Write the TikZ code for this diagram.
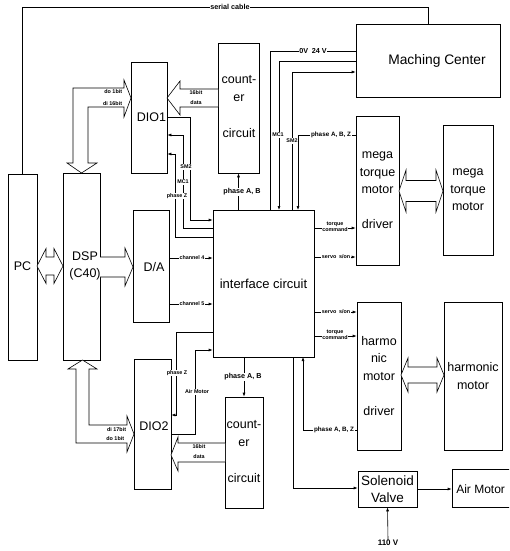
\documentclass[tikz,border=0pt]{standalone}
\usepackage{fontspec}
\setmainfont{Liberation Sans}
\usetikzlibrary{arrows.meta,calc}
\newcommand\bigtxt{\fontsize{12.5}{17.5}\selectfont}
\newcommand\smtxt{\bfseries\fontsize{5.4}{6}\selectfont}
\newcommand\mdtxt{\bfseries\fontsize{7.2}{8}\selectfont}
\begin{document}
\begin{tikzpicture}[x=1pt,y=-1pt,
  line width=0.6pt,
  >={Latex[length=4pt,width=3pt]},
  box/.style={draw, inner sep=0pt, align=center, font=\bigtxt},
  txt/.style={inner sep=0pt, align=center, font=\bigtxt},
  lab/.style={fill=white, inner sep=0.6pt, align=center, font=\smtxt},
  mlab/.style={fill=white, inner sep=0.8pt, align=center, font=\mdtxt},
  fat/.style={draw, fill=white, line join=miter}]
\path[use as bounding box, clip] (0,0) rectangle (509,551);

% boxes
\node[box, minimum width=29pt, minimum height=186pt] (pc) at (22.5,267) {};
\node[txt] (pct) at (22.5,266) {PC};
\node[box, minimum width=37pt, minimum height=187pt] (dsp) at (81.5,266.5) {};
\node[txt] (dspt) at (85,266) {DSP\\(C40)};
\node[box, minimum width=36pt, minimum height=111pt] (dio1) at (149,117.5) {};
\node[txt] (dio1t) at (151.5,117) {DIO1};
\node[box, minimum width=41pt, minimum height=130pt] (cnt1) at (238.5,108) {};
\node[txt, font=\fontsize{12.5}{18}\selectfont] (cnt1t) at (239,107) {count-\\er\\\mbox{}\\circuit};
\node[box, minimum width=36pt, minimum height=112pt] (da) at (151,266) {};
\node[txt] (dat) at (154,267) {D/A};
\node[box, minimum width=101pt, minimum height=147pt] (iface) at (263.5,283.5) {};
\node[txt, font=\fontsize{13}{15}\selectfont] (ifacet) at (263.5,284) {interface circuit};
\node[box, minimum width=37pt, minimum height=130pt] (dio2) at (152.5,424) {};
\node[txt] (dio2t) at (154,426) {DIO2};
\node[box, minimum width=38pt, minimum height=111pt] (cnt2) at (244,452.5) {};
\node[txt, font=\fontsize{12.5}{18}\selectfont] (cnt2t) at (244,452) {count-\\er\\\mbox{}\\circuit};
\node[box, minimum width=144pt, minimum height=73pt] (mc) at (428,60.5) {};
\node[txt, font=\fontsize{13.8}{16}\selectfont] (mct) at (437,61) {Maching Center};
\node[box, minimum width=43pt, minimum height=149pt] (mtd) at (377.5,190.5) {mega\\torque\\motor\\\mbox{}\\driver};
\node[box, minimum width=50pt, minimum height=130pt] (mtm) at (468,190) {mega\\torque\\motor};
\node[box, minimum width=44pt, minimum height=148pt] (hmd) at (379,376) {harmo\\nic\\motor\\\mbox{}\\driver};
\node[box, minimum width=58pt, minimum height=148pt] (hm) at (473,376) {harmonic\\motor};
\node[box, minimum width=59pt, minimum height=36pt, font=\fontsize{13.5}{17}\selectfont] (sv) at (387.5,489) {Solenoid\\Valve};
\node[box, minimum width=78pt, minimum height=38pt] (am) at (491,488) {};
\node[txt, anchor=west, font=\fontsize{12}{14}\selectfont] (amt) at (456,489) {Air Motor};
\node[inner sep=0pt, font=\bfseries\fontsize{8}{9}\selectfont] (v110) at (388,543) {110 V};

% fat arrows
\draw[fat] (37,266) -- (46,248.5) -- (46,257) -- (54,257) -- (54,248.5) -- (63,266)
  -- (54,283.5) -- (54,275) -- (46,275) -- (46,283.5) -- cycle;
\draw[fat] (100,257) -- (125,257) -- (125,248) -- (133,267) -- (125,286) -- (125,277) -- (100,277);
\draw[fat] (399,191) -- (406,170) -- (406,180.5) -- (436,180.5) -- (436,170) -- (443,191)
  -- (436,212) -- (436,201.5) -- (406,201.5) -- (406,212) -- cycle;
\draw[fat] (401,375) -- (408,358) -- (408,367) -- (437,367) -- (437,358) -- (444,375)
  -- (437,392) -- (437,383) -- (408,383) -- (408,392) -- cycle;
% DSP <-> DIO1
\draw[fat] (81.5,173) -- (97,163) -- (88,163) -- (88,107) -- (124,107) -- (124,117) -- (131,98)
  -- (124,80) -- (124,88) -- (73,88) -- (73,163) -- (67,163) -- cycle;
% DSP <-> DIO2
\draw[fat] (82.5,360) -- (97,369) -- (89,369) -- (89,425) -- (127,425) -- (127,416) -- (134,434)
  -- (127,452) -- (127,443) -- (76,443) -- (76,369) -- (68,369) -- cycle;
% counters -> DIO
\draw[fat] (218,89) -- (180,89) -- (180,81) -- (167,98) -- (180,115) -- (180,107) -- (218,107);
\draw[fat] (225,443) -- (178,443) -- (178,437) -- (171,455) -- (178,471) -- (178,462) -- (225,462);

\node[lab, fill=none, anchor=east] (l1) at (123,92) {do 1bit};
\node[lab, fill=none, anchor=east] (l2) at (123,103.5) {di 16bit};
\node[lab, fill=none] (l3) at (196,93) {16bit};
\node[lab, fill=none] (l4) at (196,103) {data};
\node[lab, fill=none, anchor=east] (l5) at (127,429.5) {di 17bit};
\node[lab, fill=none, anchor=east] (l6) at (125,439) {do 1bit};
\node[lab, fill=none] (l7) at (199,447) {16bit};
\node[lab, fill=none] (l8) at (199,457) {data};

% serial cable
\draw (pc.north) -- (pc.north |- 0,7) -- (mc.north |- 0,7) -- (mc.north);
\node[mlab] (sc) at (230,7) {serial cable};

% machining centre lines
\draw (mc.west |- 0,51) -- (270,51) -- (270,210);
\node[mlab] (v24) at (313,51) {0V\enspace 24 V};
\draw[->] (mc.west |- 0,61) -- (279,61) -- (279,210);
\draw[->] (292,210) -- (292,72) -- (mc.west |- 0,72);
\draw[->] (mtd.west |- 0,135) -- (298,135) -- (298,210);
\node[lab] (mc1r) at (278,135) {MC1};
\node[lab] (sm2r) at (292,141) {SM2};
\node[mlab, font=\bfseries\fontsize{6.3}{7}\selectfont] (pabz1) at (331,135) {phase A, B, Z};

% interface -> drivers
\draw[->] (iface.east |- 0,228) -- (mtd.west |- 0,228);
\node[lab] (tc1) at (335,227) {torque\\command};
\draw[->] (iface.east |- 0,257) -- (mtd.west |- 0,257);
\node[lab] (ss1) at (336,257) {servo\enspace s/on};
\draw[->] (iface.east |- 0,312) -- (hmd.west |- 0,312);
\node[lab] (ss2) at (336,312) {servo\enspace s/on};
\draw[->] (iface.east |- 0,336) -- (hmd.west |- 0,336);
\node[lab] (tc2) at (335,335) {torque\\command};

% DIO1 signals
\draw[->] (dio1.east |- 0,117) -- (190,117) -- (190,220) -- (iface.west |- 0,220);
\draw[->] (iface.west |- 0,228) -- (183,228) -- (183,135) -- (dio1.east |- 0,135);
\draw[->] (iface.west |- 0,237) -- (175,237) -- (175,154) -- (dio1.east |- 0,154);
\node[lab] (sm2l) at (186,167) {SM2};
\node[lab] (mc1l) at (183,182) {MC1};
\node[lab] (pzl) at (177,196) {phase Z};

% counters
\draw[->] (cnt1.south |- iface.north) -- (cnt1.south);
\node[mlab] (pab1) at (242,192) {phase A, B};
\draw[->] (cnt2.north |- iface.south) -- (cnt2.north);
\node[mlab] (pab2) at (243,377) {phase A, B};

% D/A channels
\draw[->] (da.east |- 0,258) -- (iface.west |- 0,258);
\node[lab] (ch4) at (192,258) {channel 4};
\draw[->] (da.east |- 0,304) -- (iface.west |- 0,304);
\node[lab] (ch5) at (192,304) {channel 5};

% DIO2 signals
\draw[->] (iface.west |- 0,332) -- (176,332) -- (176,415) -- (dio2.east |- 0,415);
\node[lab] (pz2) at (177,373) {phase Z};
\draw[->] (dio2.east |- 0,434) -- (195,434) -- (195,350) -- (iface.west |- 0,350);
\node[lab] (airl) at (197,392) {Air Motor};

% lower right
\draw[->] (293,357) -- (293,488) -- (sv.west |- 0,488);
\draw[->] (hmd.west |- 0,430) -- (303,430) -- (303,357);
\node[mlab, font=\bfseries\fontsize{6.3}{7}\selectfont] (pabz2) at (334,430) {phase A, B, Z};
\draw[->] (sv.east) -- (am.west |- sv.east);
\draw[->] (v110.north) -- (sv.south);
\end{tikzpicture}
\end{document}
